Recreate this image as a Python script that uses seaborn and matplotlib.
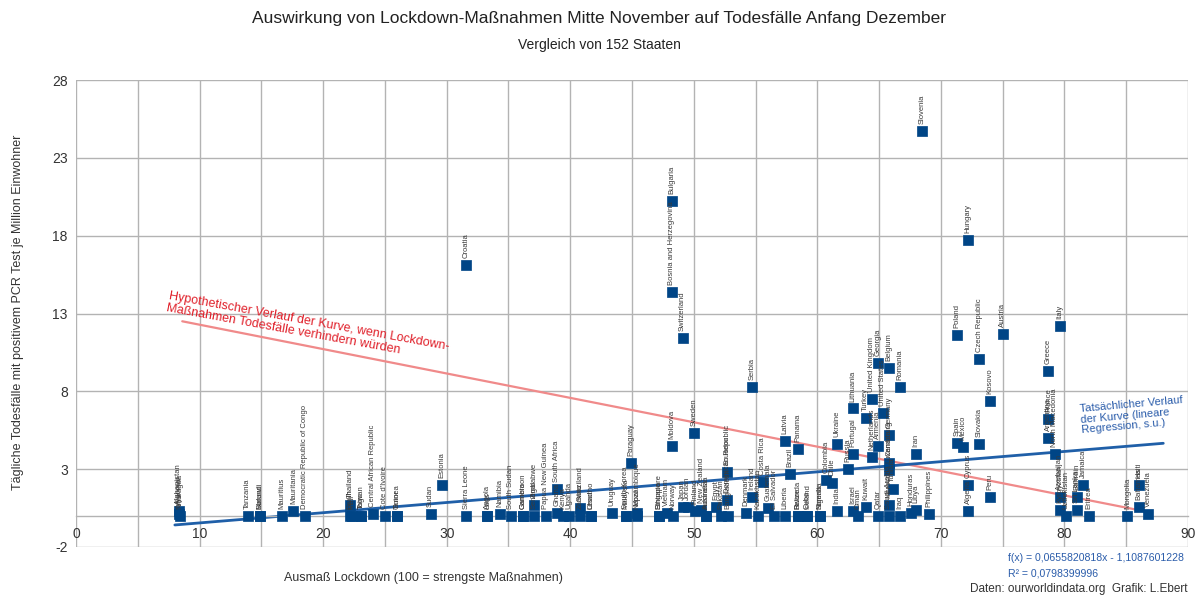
import matplotlib
matplotlib.use("Agg")
import matplotlib.pyplot as plt
import seaborn as sns
import pandas as pd
import numpy as np
from matplotlib.ticker import MultipleLocator

# ---------------- data ----------------
countries = [
    "Afghanistan", "Myanmar", "Nicaragua", "Tanzania", "Burundi", "Mauritius", "Mauritania",
    "Democratic Republic of Congo", "Thailand", "Benin", "Mali", "Taiwan", "Central African Republic",
    "Cote d'Ivoire", "Timor", "Sudan", "Estonia", "Croatia", "Sierra Leone", "Laos", "Namibia",
    "South Sudan", "Gambia", "Zimbabwe", "Senegal", "Papua New Guinea", "South Africa", "Ghana",
    "Kenya", "Uganda", "Swaziland", "Zambia", "Lesotho", "Uruguay", "South Korea", "Paraguay",
    "Mozambique", "Nepal", "Singapore", "Vietnam", "Bulgaria", "Bosnia and Herzegovina", "Moldova",
    "Norway", "Switzerland", "Japan", "Jordan", "Sweden", "Finland", "New Zealand", "Australia",
    "Egypt", "Pakistan", "Ecuador", "Dominican Republic", "Bangladesh", "Denmark", "Serbia",
    "Ireland", "Kazakhstan", "Costa Rica", "Guatemala", "El Salvador", "Latvia", "Brazil",
    "Liberia", "Panama", "Rwanda", "Cuba", "Nigeria", "Colombia", "Chile", "Ukraine", "India",
    "Russia", "Lithuania", "Portugal", "Israel", "Oman", "Turkey", "Kuwait", "United Kingdom",
    "Netherlands", "Georgia", "Armenia", "Qatar", "United States", "Belgium", "Germany", "Canada",
    "Luxembourg", "Morocco", "Saudi Arabia", "Tunisia", "Romania", "Iraq", "Honduras", "Iran",
    "Libya", "Philippines", "Slovenia", "Poland", "Spain", "Mexico", "Hungary", "Cyprus",
    "Algeria", "Czech Republic", "Slovakia", "Kosovo", "Peru", "Austria", "Greece", "France",
    "Argentina", "North Macedonia", "Italy", "Azerbaijan", "Kyrgyzstan", "Uzbekistan", "Bahrain",
    "Sri Lanka", "Jamaica", "Eritrea", "Mongolia", "Haiti", "Bahamas", "Venezuela",
    "Malawi", "Togo", "Guinea", "Angola", "Cameroon", "Chad", "Ethiopia", "Somalia",
    "Indonesia", "Malaysia", "Iceland", "Belize",
]
lockdown = [
    8.3, 8.3, 8.4, 13.9, 14.9, 16.7, 17.6,
    18.5, 22.2, 22.2, 22.3, 23.1, 24.0,
    25.0, 26.0, 28.7, 29.6, 31.6, 31.6, 33.3, 34.3,
    35.2, 36.2, 37.1, 37.1, 38.0, 38.9, 38.9,
    39.4, 39.9, 40.8, 40.8, 41.7, 43.4, 44.5, 44.9,
    45.4, 45.4, 47.2, 47.8, 48.2, 48.2, 48.2,
    48.3, 49.1, 49.1, 49.5, 50.0, 50.1, 50.6, 51.0,
    51.8, 52.2, 52.7, 52.7, 52.8, 54.2, 54.7,
    54.7, 55.2, 55.6, 56.0, 56.5, 57.4, 57.8,
    57.4, 58.4, 58.4, 59.2, 60.2, 60.7, 61.2, 61.6, 61.6,
    62.5, 62.9, 62.9, 62.9, 63.3, 63.9, 63.9, 64.4,
    64.4, 64.9, 64.9, 64.9, 65.3, 65.8, 65.8, 65.8,
    65.8, 65.8, 65.8, 66.1, 66.7, 66.7, 67.6, 68.0,
    68.0, 69.0, 68.5, 71.3, 71.3, 71.8, 72.2, 72.2,
    72.2, 73.1, 73.1, 74.0, 74.0, 75.0, 78.7, 78.7,
    78.7, 79.2, 79.6, 79.6, 79.6, 80.1, 81.0,
    81.0, 81.5, 82.0, 85.1, 86.0, 86.0, 86.8,
    14.9, 23.1, 26.0, 33.3, 36.2, 41.7, 47.2, 60.2,
    51.0, 44.5, 59.2, 58.4,
]
deaths = [
    0.3, 0.1, 0.0, 0.0, 0.0, 0.0, 0.3,
    0.0, 0.7, 0.0, 0.0, 0.0, 0.1,
    0.0, 0.0, 0.1, 2.0, 16.1, 0.0, 0.0, 0.1,
    0.0, 0.0, 0.7, 0.0, 0.0, 1.7, 0.2,
    0.0, 0.0, 0.5, 0.0, 0.0, 0.2, 0.0, 3.4,
    0.2, 0.0, 0.0, 0.2, 20.2, 14.4, 4.5,
    0.0, 11.4, 0.6, 0.6, 5.3, 0.3, 0.4, 0.0,
    0.6, 0.0, 2.8, 1.0, 0.0, 0.2, 8.3,
    1.2, 0.0, 2.2, 0.5, 0.0, 4.8, 2.7,
    0.0, 4.3, 0.0, 0.0, 0.0, 2.3, 2.1, 4.6, 0.3,
    3.0, 6.9, 4.0, 0.3, 0.0, 6.3, 0.6, 7.5,
    3.8, 9.8, 4.5, 0.0, 6.6, 9.5, 5.2, 3.4,
    2.95, 0.7, 0.0, 1.7, 8.3, 0.0, 0.2, 4.0,
    0.4, 0.1, 24.7, 11.6, 4.7, 4.4, 17.7, 2.0,
    0.3, 10.1, 4.6, 7.4, 1.2, 11.7, 9.3, 6.2,
    5.0, 4.0, 12.2, 1.2, 0.4, 0.0, 1.2,
    0.4, 2.0, 0.0, 0.0, 2.0, 0.6, 0.1,
    0.0, 0.0, 0.0, 0.0, 0.0, 0.0, 0.0, 0.0,
    0.0, 0.0, 0.0, 0.0,
]

reg_slope = 0.0655820818
reg_intercept = -1.1087601228
reg_x = [8.0, 88.0]
hypo_x = [8.6, 87.1]
hypo_y = [12.5, 0.2]

x_ticks = [0, 10, 20, 30, 40, 50, 60, 70, 80, 90]
y_ticks = [-2, 3, 8, 13, 18, 23, 28]

title = "Auswirkung von Lockdown-Maßnahmen Mitte November auf Todesfälle Anfang Dezember"
subtitle = "Vergleich von 152 Staaten"
x_label = "Ausmaß Lockdown (100 = strengste Maßnahmen)"
y_label = "Tägliche Todesfälle mit positivem PCR Test je Million Einwohner"
hypo_text = "Hypothetischer Verlauf der Kurve, wenn Lockdown-\nMaßnahmen Todesfälle verhindern würden"
real_text = "Tatsächlicher Verlauf\nder Kurve (lineare\nRegression, s.u.)"
eq_text = "f(x) = 0,0655820818x - 1,1087601228"
r2_text = "R² = 0,0798399996"
source_text = "Daten: ourworldindata.org  Grafik: L.Ebert"

df = pd.DataFrame({"land": countries, "lockdown": lockdown, "deaths": deaths})
reg_df = pd.DataFrame({"x": reg_x, "y": [reg_slope * v + reg_intercept for v in reg_x]})
hypo_df = pd.DataFrame({"x": hypo_x, "y": hypo_y})

# ---------------- style ----------------
sns.set_theme(style="white")
plt.rcParams["font.family"] = ["Liberation Sans", "DejaVu Sans"]
plt.rcParams["axes.unicode_minus"] = False

BLUE = "#004586"
GRID = "#b3b3b3"

fig = plt.figure(figsize=(11.99, 5.98), dpi=100)
ax = fig.add_axes([76 / 1199, 1 - 547 / 598, (1188 - 76) / 1199, (547 - 80) / 598])

ax.set_xlim(0, 90)
ax.set_ylim(-2, 28)
ax.set_xticks(x_ticks)
ax.xaxis.set_minor_locator(MultipleLocator(5))
ax.set_yticks(y_ticks)
ax.grid(True, which="both", color=GRID, linewidth=1.0)
ax.set_axisbelow(True)
for s in ["top", "right", "left"]:
    ax.spines[s].set_visible(False)
ax.spines["bottom"].set_position(("data", 0))
ax.spines["bottom"].set_color(GRID)
ax.spines["bottom"].set_linewidth(1.0)
ax.tick_params(axis="both", length=0, labelsize=10, colors="#333333", pad=6)
ax.tick_params(axis="x", pad=8)

# hypothetical (red) line
sns.lineplot(data=hypo_df, x="x", y="y", ax=ax, color="#f08a8a", linewidth=1.6,
             legend=False, zorder=2)
# regression line
sns.lineplot(data=reg_df, x="x", y="y", ax=ax, color="#1f5fa8", linewidth=2.0,
             legend=False, zorder=2)
# scatter
sns.scatterplot(data=df, x="lockdown", y="deaths", ax=ax, marker="s", s=62,
                color=BLUE, edgecolor=BLUE, linewidth=0.5, zorder=3, legend=False)

for name, xv, yv in zip(countries, lockdown, deaths):
    ax.annotate(name, (xv, yv), xytext=(0, 5), textcoords="offset points",
                rotation=90, ha="center", va="bottom", fontsize=5.5,
                color="#3a3a3a", zorder=4)

ax.set_xlabel("")
ax.set_ylabel("")

# annotations
ax.text(7.6, 14.5, hypo_text, rotation=-10.3, rotation_mode="anchor", ha="left",
        va="top", fontsize=9, color="#e0202a", linespacing=1.0, zorder=5)
ax.text(81.2, 7.2, real_text, rotation=5, rotation_mode="anchor", ha="left",
        va="top", fontsize=8, color="#2a5caa", linespacing=1.1, zorder=5)

# titles and labels
fig.text(0.5, 1 - 18 / 598, title, ha="center", va="center", fontsize=12.5, color="#222222")
fig.text(0.5, 1 - 45 / 598, subtitle, ha="center", va="center", fontsize=10, color="#222222")
fig.text(423 / 1199, 1 - 578 / 598, x_label, ha="center", va="center", fontsize=9, color="#333333")
fig.text(18 / 1199, 1 - 312 / 598, y_label, ha="center", va="center", rotation=90,
         fontsize=9, color="#333333")
fig.text(1008 / 1199, 1 - 558 / 598, eq_text, ha="left", va="center", fontsize=7.6, color="#2a5caa")
fig.text(1008 / 1199, 1 - 573 / 598, r2_text, ha="left", va="center", fontsize=7.6, color="#2a5caa")
fig.text(1188 / 1199, 1 - 589 / 598, source_text, ha="right", va="center", fontsize=8.5,
         color="#333333")

fig.savefig("out.png", dpi=100)
